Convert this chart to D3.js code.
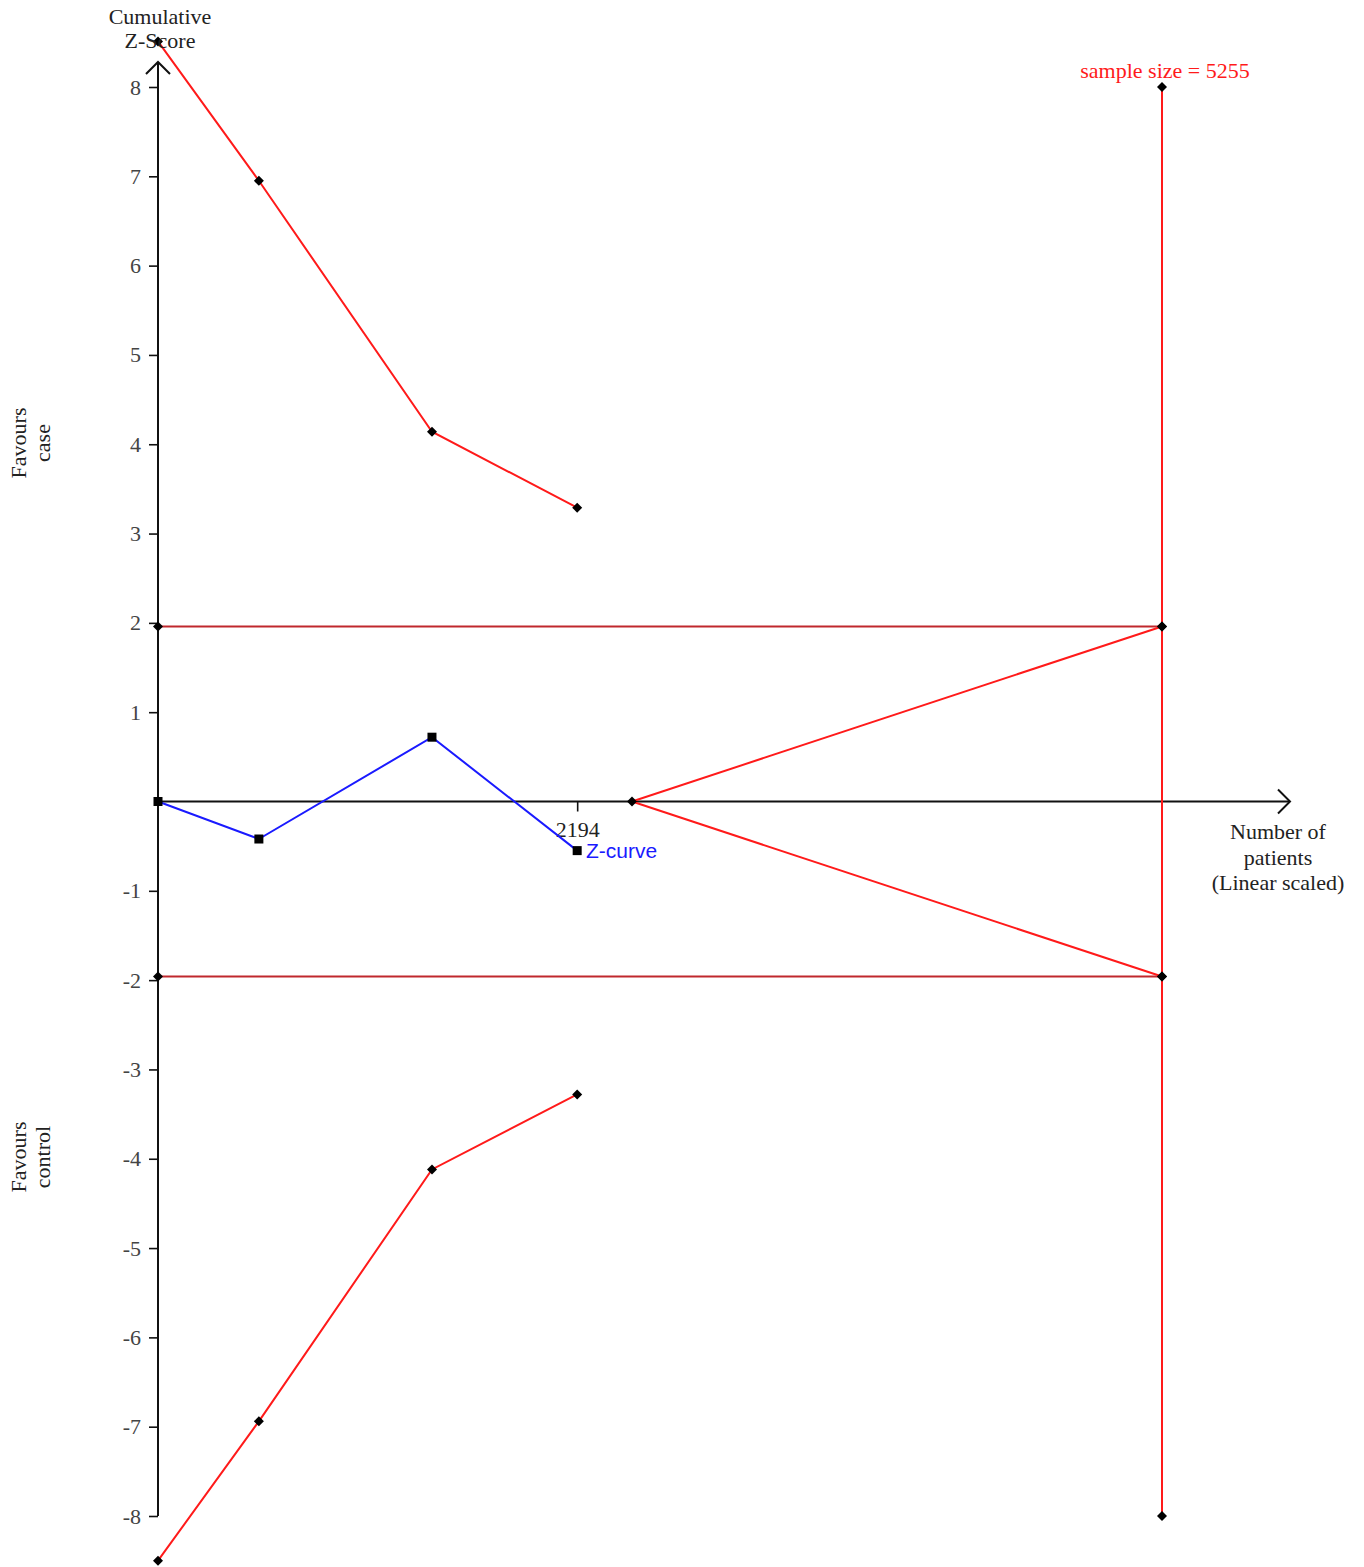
<!DOCTYPE html>
<html><head><meta charset="utf-8">
<script src="https://cdn.jsdelivr.net/npm/d3@7"></script>
<style>body{margin:0;background:#fff}</style>
</head><body>
<script>
// Data
const zCurveN = [0, 528, 1434, 2194];
const zCurveZ = [0, -0.42, 0.72, -0.55];
const boundN = [0, 528, 1434, 2194];
const boundUpper = [8.51, 6.95, 4.14, 3.29];
const boundLower = [-8.5, -6.94, -4.12, -3.28];
const futilityN = [2481, 5255];
const futilityUpper = [0, 1.96];
const futilityLower = [0, -1.96];
const convN = [0, 5255];
const convZ = [1.96, -1.96];
const sampleSize = 5255;
const sampleZ = [8, 1.96, -1.96, -8];
const yTicks = [-8,-7,-6,-5,-4,-3,-2,-1,1,2,3,4,5,6,7,8];
const xTicks = [2194];

const W = 1364, H = 1567;
const svg = d3.select("body").append("svg").attr("width", W).attr("height", H);
const x = d3.scaleLinear().domain([0, 5255]).range([158, 1162]);
const y = d3.scaleLinear().domain([-8, 8]).range([1516, 87]);
const serif = "'Liberation Serif','Times New Roman',serif";
const red = "#ff1a1a";

// Y axis
const yAxis = d3.axisLeft(y).tickValues(yTicks).tickSize(9).tickPadding(8).tickFormat(d => d);
const gy = svg.append("g").attr("transform", `translate(${x(0)},0)`).call(yAxis);
gy.select(".domain").remove();
gy.selectAll("line").attr("stroke", "#111").attr("stroke-width", 1.6);
gy.selectAll("text").attr("font-family", serif).attr("font-size", 22).attr("fill", "#444");
svg.append("line").attr("x1", x(0)).attr("x2", x(0)).attr("y1", y(-8)).attr("y2", 62)
  .attr("stroke", "#111").attr("stroke-width", 2);
svg.append("path").attr("d", `M${x(0)-12},${74} L${x(0)},${62} L${x(0)+12},${74}`)
  .attr("fill", "none").attr("stroke", "#111").attr("stroke-width", 2);

// X axis
svg.append("line").attr("x1", x(0)).attr("x2", 1290).attr("y1", y(0)).attr("y2", y(0))
  .attr("stroke", "#111").attr("stroke-width", 2);
svg.append("path").attr("d", `M${1278},${y(0)-12} L${1290},${y(0)} L${1278},${y(0)+12}`)
  .attr("fill", "none").attr("stroke", "#111").attr("stroke-width", 2);
const xAxis = d3.axisBottom(x).tickValues(xTicks).tickSize(10).tickPadding(10).tickFormat(d => d);
const gx = svg.append("g").attr("transform", `translate(0,${y(0)})`).call(xAxis);
gx.select(".domain").remove();
gx.selectAll("line").attr("stroke", "#111").attr("stroke-width", 1.6);
gx.selectAll("text").attr("font-family", serif).attr("font-size", 22).attr("fill", "#222");

const line = d3.line().x(d => x(d[0])).y(d => y(d[1]));
const diamond = (px, py) => svg.append("path")
  .attr("d", d3.symbol().type(d3.symbolSquare).size(50)())
  .attr("transform", `translate(${px},${py}) rotate(45)`).attr("fill", "#000");

// Conventional boundaries
convZ.forEach(z => {
  svg.append("path").datum(convN.map(n => [n, z])).attr("d", line)
    .attr("fill", "none").attr("stroke", "#c0282d").attr("stroke-width", 2);
});

// Monitoring boundaries
[boundUpper, boundLower].forEach(arr => {
  const pts = boundN.map((n, i) => [n, arr[i]]);
  svg.append("path").datum(pts).attr("d", line).attr("fill", "none").attr("stroke", red).attr("stroke-width", 2);
});
// Futility wedge
[futilityUpper, futilityLower].forEach(arr => {
  const pts = futilityN.map((n, i) => [n, arr[i]]);
  svg.append("path").datum(pts).attr("d", line).attr("fill", "none").attr("stroke", red).attr("stroke-width", 2);
});
// Required sample size line
svg.append("path").datum([[sampleSize, 8], [sampleSize, -8]]).attr("d", line)
  .attr("fill", "none").attr("stroke", red).attr("stroke-width", 2);

// Z-curve
const zpts = zCurveN.map((n, i) => [n, zCurveZ[i]]);
svg.append("path").datum(zpts).attr("d", line).attr("fill", "none").attr("stroke", "#1a1aff").attr("stroke-width", 2);

// Markers
[boundUpper, boundLower].forEach(arr => boundN.forEach((n, i) => diamond(x(n), y(arr[i]))));
convZ.forEach(z => convN.forEach(n => diamond(x(n), y(z))));
diamond(x(futilityN[0]), y(0));
sampleZ.forEach(z => diamond(x(sampleSize), y(z)));
zpts.forEach(p => svg.append("rect").attr("x", x(p[0]) - 4.5).attr("y", y(p[1]) - 4.5)
  .attr("width", 9).attr("height", 9).attr("fill", "#000"));

// Labels
const txt = (t, px, py, opts = {}) => svg.append("text").text(t).attr("x", px).attr("y", py)
  .attr("font-family", opts.family || serif).attr("font-size", opts.size || 22)
  .attr("fill", opts.fill || "#222").attr("text-anchor", opts.anchor || "middle")
  .attr("transform", opts.rotate ? `rotate(-90,${px},${py})` : null);
txt("Cumulative", 160, 24);
txt("Z-Score", 160, 48);
txt("sample size = 5255", 1165, 78, {fill: red});
txt("Number of", 1278, 839);
txt("patients", 1278, 865);
txt("(Linear scaled)", 1278, 890);
txt("Z-curve", 586, 858, {family: "'Liberation Sans',Arial,sans-serif", size: 21, fill: "#1a1aff", anchor: "start"});
txt("Favours", 26, 443, {rotate: true});
txt("case", 50, 443, {rotate: true});
txt("Favours", 26, 1157, {rotate: true});
txt("control", 50, 1157, {rotate: true});
</script>
</body></html>
